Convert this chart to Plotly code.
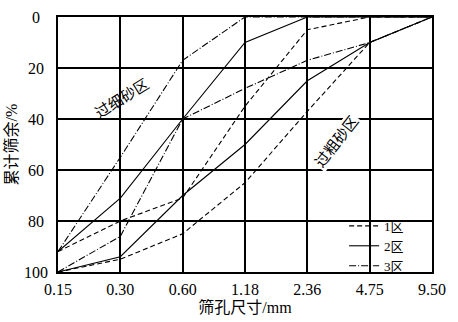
import plotly.graph_objects as go

# Sieve sizes (mm) and cumulative retained percentages for each grading zone
sieves = ["0.15", "0.30", "0.60", "1.18", "2.36", "4.75", "9.50"]

zone1_coarse = [100, 95, 85, 65, 37, 10, 0]
zone1_fine = [92, 80, 71, 35, 5, 0, 0]
zone2_coarse = [100, 94, 70, 50, 25, 10, 0]
zone2_fine = [92, 71, 40, 10, 0, 0, 0]
zone3_coarse = [100, 86, 40, 28, 17, 10, 0]
zone3_fine = [92, 55, 17, 0, 0, 0, 0]

zone_names = ["1区", "2区", "3区"]
y_ticks = [0, 20, 40, 60, 80, 100]
# centred tick labels: pad shorter numbers with half-digit spaces on the right
y_ticktext = ["0\u2002", "20\u2005", "40\u2005", "60\u2005", "80\u2005", "100"]

serif = "Liberation Serif, Times New Roman, Noto Sans CJK SC, serif"

zones = [
    (zone_names[0], zone1_coarse, zone1_fine, "5px,3px"),
    (zone_names[1], zone2_coarse, zone2_fine, "solid"),
    (zone_names[2], zone3_coarse, zone3_fine, "7px,2px,1px,2px"),
]

fig = go.Figure()
for name, coarse, fine, dash in zones:
    for i, vals in enumerate((coarse, fine)):
        fig.add_trace(go.Scatter(
            x=sieves, y=vals, mode="lines", name=name,
            legendgroup=name, showlegend=(i == 0),
            line=dict(color="black", width=1.1, dash=dash),
        ))

fig.add_annotation(text="过细砂区", x=1.02, y=32, xref="x", yref="y",
                   showarrow=False, textangle=-32,
                   font=dict(family=serif, size=15, color="black"))
fig.add_annotation(text="过粗砂区", x=4.47, y=49, xref="x", yref="y",
                   showarrow=False, textangle=-52, bgcolor="white",
                   font=dict(family=serif, size=15, color="black"))

fig.update_layout(
    width=458, height=322,
    margin=dict(l=58, r=26, t=17, b=50),
    paper_bgcolor="white", plot_bgcolor="white",
    font=dict(family=serif, size=16, color="black"),
    showlegend=True,
    legend=dict(x=0.765, y=-0.035, xanchor="left", yanchor="bottom",
                bgcolor="rgba(0,0,0,0)", borderwidth=0,
                font=dict(family=serif, size=13, color="black"),
                tracegroupgap=0, itemwidth=30),
)
fig.update_xaxes(
    type="category", range=[0, 6], automargin=False,
    showgrid=True, gridcolor="black", gridwidth=1.5,
    showline=True, linecolor="black", linewidth=1.5, mirror=True,
    ticks="", ticklabelstandoff=2,
    title=dict(text="筛孔尺寸/mm", font=dict(family=serif, size=16), standoff=2),
    zeroline=False,
)
fig.update_yaxes(
    range=[100, 0], tickvals=y_ticks, ticktext=y_ticktext, automargin=False,
    showgrid=True, gridcolor="black", gridwidth=1.5,
    showline=True, linecolor="black", linewidth=1.5, mirror=True,
    ticks="", ticklabelstandoff=5,
    title=dict(text="累计筛余/%", font=dict(family=serif, size=16), standoff=2),
    zeroline=False,
)

fig.write_html("out.html")
